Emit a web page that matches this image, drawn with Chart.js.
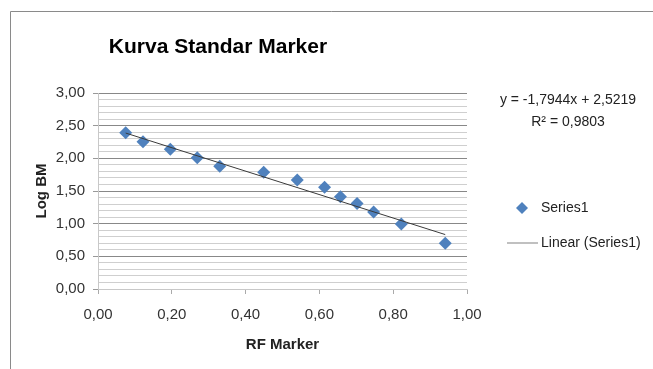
<!DOCTYPE html>
<html>
<head>
<meta charset="utf-8">
<script src="https://cdn.jsdelivr.net/npm/chart.js@4"></script>
<style>
  html, body { margin: 0; padding: 0; background: #fff; }
  #wrap { width: 653px; height: 369px; }
</style>
</head>
<body>
<div id="wrap"><canvas id="scatterChart" width="653" height="369"></canvas></div>
<script>
// data
const rfMarker = [0.075, 0.122, 0.196, 0.269, 0.330, 0.449, 0.540, 0.614, 0.657, 0.702, 0.747, 0.822, 0.941];
const logBM    = [2.390, 2.255, 2.140, 2.010, 1.880, 1.786, 1.668, 1.557, 1.413, 1.310, 1.180, 0.995, 0.700];
// trendline end points (Linear (Series1))
const trendX = [0.075, 0.941];
const trendY = [2.387, 0.833];
const equationText = 'y = -1,7944x + 2,5219';
const r2Text = 'R² = 0,9803';
const seriesName = 'Series1';
const trendName = 'Linear (Series1)';

const FONT = "'Liberation Sans', Arial, sans-serif";
const fmt = v => v.toFixed(2).replace('.', ',');
const isMajor = v => Math.abs(v * 2 - Math.round(v * 2)) < 1e-6;

const points = rfMarker.map((x, i) => ({ x: x, y: logBM[i] }));
const trend = trendX.map((x, i) => ({ x: x, y: trendY[i] }));

// title, frame, equation and legend
const extras = {
    id: 'extras',
    afterDraw(chart) {
        const c = chart.ctx;
        c.save();
        c.strokeStyle = '#8a8a8a';
        c.lineWidth = 1;
        c.beginPath();
        c.moveTo(10.5, 369);
        c.lineTo(10.5, 11.5);
        c.lineTo(653, 11.5);
        c.stroke();

        c.fillStyle = '#000';
        c.textAlign = 'center';
        c.textBaseline = 'middle';
        c.font = "bold 21px " + FONT;
        c.fillText('Kurva Standar Marker', 218, 47);

        c.fillStyle = '#222';
        c.font = "14px " + FONT;
        c.fillText(equationText, 568, 100);
        c.fillText(r2Text, 568, 122);

        // legend
        c.fillStyle = '#4f81bd';
        c.beginPath();
        c.moveTo(522, 202); c.lineTo(528, 208); c.lineTo(522, 214); c.lineTo(516, 208);
        c.closePath();
        c.fill();
        c.strokeStyle = '#c0c0c0';
        c.lineWidth = 2;
        c.beginPath();
        c.moveTo(507, 243); c.lineTo(538, 243);
        c.stroke();
        c.fillStyle = '#222';
        c.textAlign = 'left';
        c.fillText(seriesName, 541, 208);
        c.fillText(trendName, 541, 243);
        c.restore();
    }
};

const scatterChart = new Chart(document.getElementById('scatterChart'), {
    type: 'scatter',
    data: {
        datasets: [{
            label: trendName,
            type: 'line',
            data: trend,
            borderColor: '#3a3a3a',
            borderWidth: 1,
            pointRadius: 0,
            fill: false,
            order: 0
        }, {
            label: seriesName,
            data: points,
            pointStyle: 'rectRot',
            pointRadius: 6.5,
            pointHoverRadius: 6.5,
            backgroundColor: '#4f81bd',
            borderColor: '#4f81bd',
            borderWidth: 0,
            order: 1
        }]
    },
    options: {
        responsive: false,
        animation: false,
        layout: { padding: { left: 29, right: 186, top: 93, bottom: 11 } },
        plugins: {
            legend: { display: false },
            tooltip: { enabled: false }
        },
        scales: {
            x: {
                type: 'linear',
                min: 0, max: 1,
                afterFit: s => { s.height = 69; },
                ticks: {
                    stepSize: 0.2,
                    padding: 12,
                    color: '#333',
                    font: { family: FONT, size: 15 },
                    callback: v => fmt(v)
                },
                grid: {
                    drawOnChartArea: false,
                    drawTicks: true,
                    tickLength: 5,
                    tickColor: '#aaa'
                },
                border: { color: '#c8c8c8' },
                title: {
                    display: true,
                    text: 'RF Marker',
                    color: '#222',
                    font: { family: FONT, size: 15, weight: 'bold' }
                }
            },
            y: {
                min: 0, max: 3,
                afterFit: s => { s.width = 69; },
                ticks: {
                    stepSize: 0.1,
                    autoSkip: false,
                    padding: 8,
                    color: '#333',
                    font: { family: FONT, size: 15 },
                    callback: v => isMajor(v) ? fmt(v) : ''
                },
                grid: {
                    tickLength: 5,
                    color: ctx => isMajor(ctx.tick.value) ? '#888' : '#cfcfcf',
                    tickColor: ctx => isMajor(ctx.tick.value) ? '#999' : 'rgba(0,0,0,0)'
                },
                border: { color: '#c8c8c8' },
                title: {
                    display: true,
                    text: 'Log BM',
                    color: '#222',
                    font: { family: FONT, size: 15, weight: 'bold' }
                }
            }
        }
    },
    plugins: [extras]
});
</script>
</body>
</html>
